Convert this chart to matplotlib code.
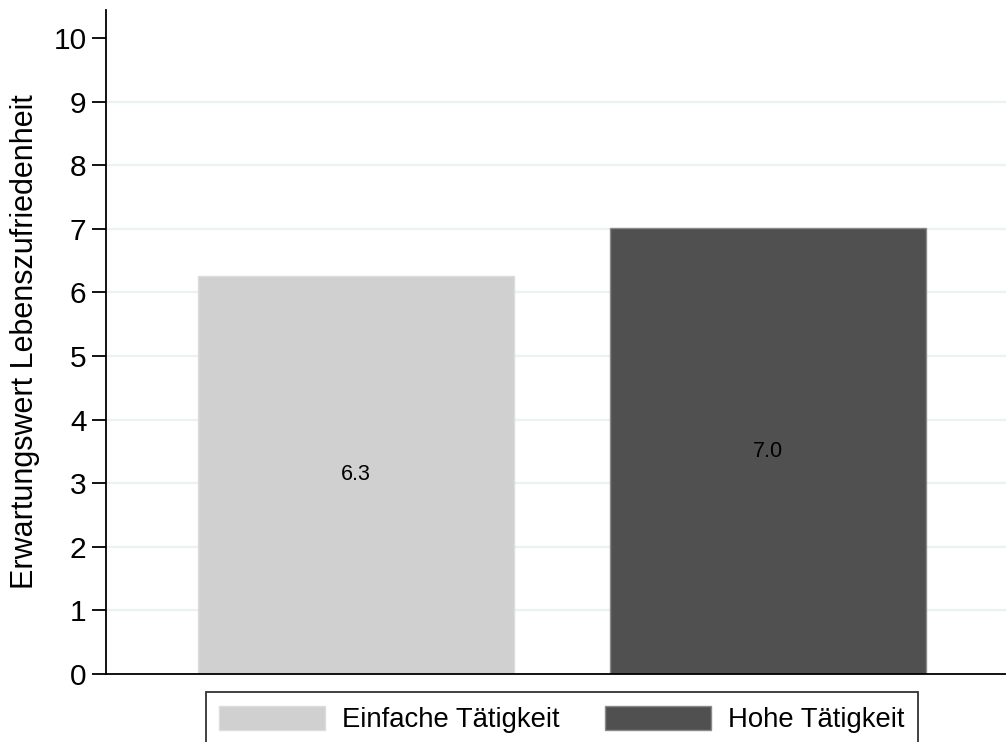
import matplotlib
matplotlib.use("Agg")
import matplotlib.pyplot as plt
from matplotlib.patches import Patch

plt.rcParams['font.family'] = ['Liberation Sans', 'DejaVu Sans']

categories = ["Einfache Tätigkeit", "Hohe Tätigkeit"]
values = [6.26, 7.01]
value_labels = ["6.3", "7.0"]
colors = ["#d0d0d0", "#505050"]
edgecolors = ["#dcdcdc", "#8a8a8a"]
yticks = list(range(0, 11))

W, H = 1006, 742
fig = plt.figure(figsize=(W / 100, H / 100), dpi=100)
fig.patch.set_facecolor("white")

left, right = 106 / W, 1018 / W
bottom, top = (H - 674) / H, (H - 10) / H
ax = fig.add_axes([left, bottom, right - left, top - bottom])

x = [0, 1]
bars = ax.bar(x, values, width=0.767, color=colors, edgecolor=edgecolors,
              linewidth=1.0, zorder=2)
for xi, v, lab in zip(x, values, value_labels):
    ax.text(xi, v / 2, lab, ha="center", va="center", fontsize=15.5, color="black", zorder=3)

ax.set_xlim(-0.607, 1.607)
ax.set_ylim(0, 10.44)
ax.set_yticks(yticks)
ax.set_yticklabels([str(t) for t in yticks], fontsize=21.5)
ax.set_xticks([])
for t in yticks[1:-1]:
    ax.axhline(t, color="#eaf2f3", linewidth=1.6, zorder=1)

ax.spines["top"].set_visible(False)
ax.spines["right"].set_visible(False)
ax.spines["left"].set_linewidth(1.3)
ax.spines["bottom"].set_linewidth(1.3)
ax.tick_params(axis="y", length=10, width=1.3, pad=4)
ax.set_ylabel("Erwartungswert Lebenszufriedenheit", fontsize=22, labelpad=10)

handles = [Patch(facecolor=c, edgecolor=e, linewidth=1.0) for c, e in zip(colors, edgecolors)]
leg = fig.legend(handles, categories, loc="upper center",
                 bbox_to_anchor=(562 / W, (H - 692) / H), ncol=2, fontsize=19.8,
                 frameon=True, fancybox=False, edgecolor="black",
                 handlelength=3.85, handleheight=1.0, columnspacing=1.65,
                 handletextpad=0.62, borderpad=0.5, borderaxespad=0)
leg.get_frame().set_linewidth(1.3)

fig.savefig("out.png", dpi=100)
